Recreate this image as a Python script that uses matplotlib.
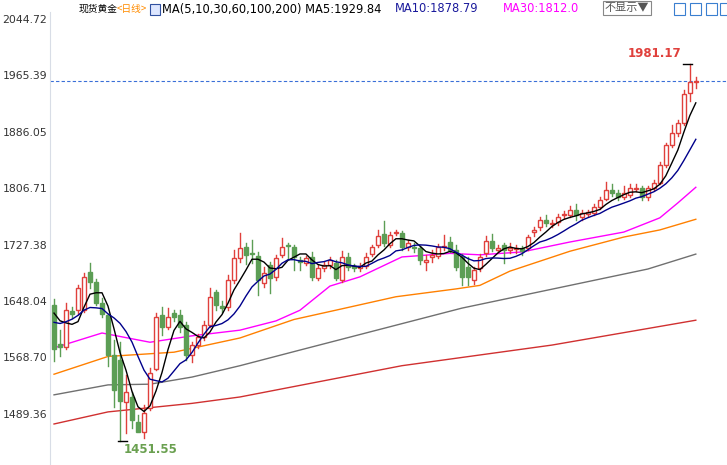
import numpy as np
import matplotlib
matplotlib.use("agg")
import matplotlib.pyplot as plt
from matplotlib.patches import Rectangle

plt.rcParams["font.family"] = ["Noto Sans CJK SC", "DejaVu Sans"]

# daily OHLC, oldest first
opens = [1642, 1587, 1583, 1634, 1635, 1635, 1689, 1675, 1645, 1628,
         1572, 1565, 1506, 1513, 1478, 1464, 1497, 1553, 1628, 1611,
         1631, 1628, 1614, 1572, 1586, 1597, 1614, 1660, 1641, 1639,
         1677, 1708, 1724, 1716, 1712, 1674, 1698, 1682, 1713, 1727,
         1724, 1706, 1702, 1710, 1680, 1694, 1699, 1701, 1677, 1710,
         1697, 1694, 1697, 1714, 1727, 1742, 1727, 1743, 1743, 1724,
         1724, 1722, 1703, 1710, 1712, 1724, 1731, 1720, 1710, 1696,
         1677, 1694, 1715, 1733, 1720, 1727, 1720, 1721, 1722, 1722,
         1745, 1752, 1762, 1757, 1759, 1769, 1769, 1776, 1766, 1771,
         1772, 1780, 1792, 1804, 1800, 1794, 1797, 1806, 1807, 1794,
         1807, 1814, 1839, 1867, 1884, 1898, 1941, 1956]
closes = [1580, 1584, 1635, 1630, 1666, 1682, 1675, 1645, 1630, 1572,
          1523, 1508, 1520, 1481, 1464, 1490, 1547, 1625, 1611, 1625,
          1625, 1611, 1572, 1586, 1597, 1614, 1653, 1642, 1638, 1677,
          1708, 1722, 1713, 1714, 1677, 1688, 1680, 1708, 1724, 1726,
          1710, 1703, 1708, 1682, 1694, 1699, 1706, 1680, 1710, 1696,
          1694, 1697, 1710, 1724, 1739, 1729, 1741, 1745, 1724, 1730,
          1723, 1705, 1706, 1713, 1724, 1726, 1720, 1696, 1682, 1682,
          1691, 1710, 1733, 1722, 1722, 1720, 1723, 1723, 1719, 1738,
          1748, 1762, 1758, 1758, 1766, 1770, 1776, 1769, 1772, 1773,
          1780, 1790, 1804, 1800, 1794, 1800, 1807, 1807, 1794, 1807,
          1814, 1839, 1867, 1884, 1898, 1939, 1956, 1957]
highs = [1651, 1607, 1645, 1640, 1670, 1688, 1701, 1679, 1652, 1630,
         1593, 1590, 1544, 1520, 1488, 1502, 1554, 1631, 1640, 1638,
         1636, 1635, 1618, 1590, 1602, 1620, 1666, 1664, 1648, 1685,
         1720, 1743, 1730, 1734, 1717, 1696, 1703, 1713, 1736, 1730,
         1727, 1710, 1712, 1717, 1699, 1703, 1710, 1705, 1718, 1715,
         1700, 1701, 1715, 1727, 1748, 1760, 1745, 1748, 1746, 1734,
         1730, 1726, 1713, 1720, 1728, 1741, 1738, 1727, 1714, 1710,
         1696, 1714, 1740, 1742, 1727, 1730, 1730, 1727, 1726, 1741,
         1752, 1766, 1769, 1762, 1770, 1774, 1782, 1784, 1776, 1776,
         1785, 1794, 1816, 1812, 1804, 1810, 1812, 1812, 1810, 1810,
         1818, 1843, 1870, 1895, 1902, 1945, 1981.17, 1963]
lows = [1563, 1570, 1580, 1624, 1630, 1633, 1667, 1642, 1626, 1556,
        1499, 1451.55, 1462, 1470, 1464, 1455, 1495, 1551, 1600, 1608,
        1620, 1605, 1565, 1562, 1582, 1593, 1611, 1635, 1633, 1635,
        1673, 1703, 1700, 1701, 1657, 1668, 1659, 1678, 1710, 1708,
        1692, 1692, 1698, 1678, 1677, 1690, 1694, 1677, 1675, 1692,
        1690, 1690, 1694, 1711, 1724, 1726, 1724, 1741, 1720, 1720,
        1717, 1700, 1692, 1703, 1709, 1720, 1717, 1692, 1670, 1670,
        1672, 1690, 1712, 1718, 1717, 1701, 1715, 1715, 1713, 1720,
        1740, 1748, 1754, 1752, 1755, 1765, 1766, 1762, 1762, 1768,
        1769, 1778, 1790, 1796, 1790, 1791, 1795, 1803, 1790, 1790,
        1804, 1812, 1836, 1865, 1880, 1895, 1930, 1948]
# closes before the first visible day (needed for MA5 / MA10)
pre_closes = [1600, 1610, 1595, 1612, 1608, 1638, 1650, 1640, 1647]

# longer averages at a few bars
ma30_idx = [0, 8, 16, 23, 31, 37, 41, 46, 51, 58, 66, 71, 78, 86, 95, 101, 104, 107]
ma30_val = [1582, 1603, 1590, 1599, 1607, 1620, 1635, 1669, 1682, 1710, 1715,
            1713, 1717, 1731, 1745, 1765, 1786, 1808]
ma60_idx = [0, 9, 20, 31, 40, 48, 57, 67, 71, 76, 86, 95, 101, 107]
ma60_val = [1545, 1570, 1576, 1596, 1622, 1637, 1654, 1665, 1670, 1690, 1718,
            1738, 1748, 1763]
ma100_idx = [0, 9, 16, 23, 31, 41, 68, 99, 107]
ma100_val = [1516, 1530, 1531, 1541, 1557, 1579, 1638, 1693, 1714]
ma200_idx = [0, 9, 23, 31, 58, 83, 107]
ma200_val = [1475, 1492, 1504, 1513, 1557, 1586, 1621]

yticks = [2044.72, 1965.39, 1886.05, 1806.71, 1727.38, 1648.04, 1568.70, 1489.36]

RED = "#e0403c"
GREEN = "#5c9e55"

fig = plt.figure(figsize=(7.27, 4.65), dpi=100, facecolor="white")
ax = fig.add_axes([50 / 727, 0, 677 / 727, 1 - 12 / 465])

n = len(closes)
x = np.arange(n)
for i in x:
    o, c, h, l = opens[i], closes[i], highs[i], lows[i]
    up = c >= o
    col = RED if up else GREEN
    lo, hi = min(o, c), max(o, c)
    ax.plot([i, i], [l, lo], color=col, lw=1, zorder=2)
    ax.plot([i, i], [hi, h], color=col, lw=1, zorder=2)
    body = max(hi - lo, 0.8)
    ax.add_patch(Rectangle((i - 0.38, lo), 0.76, body, facecolor="white" if up else col,
                           edgecolor=col, lw=1, zorder=3))

allc = np.array(pre_closes + closes, dtype=float)
ma5 = np.convolve(allc, np.ones(5) / 5, mode="valid")[-n:]
ma10 = np.convolve(allc, np.ones(10) / 10, mode="valid")[-n:]
ax.plot(x, ma5, color="black", lw=1, zorder=4)
ax.plot(x, ma10, color="#00008b", lw=1, zorder=4)
ax.plot(ma30_idx, ma30_val, color="#ff00ff", lw=1, zorder=1)
ax.plot(ma60_idx, ma60_val, color="#ff8000", lw=1, zorder=1)
ax.plot(ma100_idx, ma100_val, color="#707070", lw=1, zorder=1)
ax.plot(ma200_idx, ma200_val, color="#d03030", lw=1, zorder=1)

# last price line
ax.axhline(closes[-1], color="#3a6fd8", lw=0.8, ls=(0, (3, 2)), zorder=1)

# high / low markers
ih = int(np.argmax(highs))
il = int(np.argmin(lows))
ax.plot([ih - 1.2, ih + 0.3], [highs[ih]] * 2, color="black", lw=1)
ax.text(ih - 1.5, highs[ih] + 6, f"{highs[ih]:.2f}", color=RED, fontsize=8.5,
        fontweight="bold", ha="right", va="bottom", family=["DejaVu Sans"])
ax.plot([il - 0.3, il + 1.2], [lows[il]] * 2, color="black", lw=1)
ax.text(il + 0.6, lows[il] - 4, f"{lows[il]:.2f}", color="#6aa050", fontsize=8.5,
        fontweight="bold", ha="left", va="top", family=["DejaVu Sans"])

ax.set_xlim(-0.67, 112.2)
ax.set_ylim(1417.3, 2054.6)
ax.set_yticks(yticks)
ax.set_yticklabels([f"{v:.2f}" for v in yticks], fontsize=7.8, color="#333333",
                   family=["DejaVu Sans"])
ax.tick_params(axis="y", length=0, pad=2)
ax.set_xticks([])
for s in ["top", "right", "bottom"]:
    ax.spines[s].set_visible(False)
ax.spines["left"].set_color("#d8dde6")

# header
yh = 1 - 9 / 465
fig.text(79 / 727, yh, "现货黄金", fontsize=7, va="center")
fig.text(117 / 727, yh, "<日线>", fontsize=7, va="center", color="#ff8c00")
fig.patches.append(Rectangle((150 / 727, 1 - 15 / 465), 10 / 727, 11 / 465,
                             transform=fig.transFigure, fc="#dde6ff", ec="#3050a0", lw=0.8))
fig.text(162 / 727, yh, "MA(5,10,30,60,100,200) MA5:1929.84", fontsize=8.3,
         va="center", family=["DejaVu Sans"])
fig.text(395 / 727, yh, "MA10:1878.79", fontsize=8.3, va="center",
         color="#1a1a9c", family=["DejaVu Sans"])
fig.text(503 / 727, yh, "MA30:1812.0", fontsize=8.3, va="center",
         color="#ff00ff", family=["DejaVu Sans"])
fig.text(605 / 727, 1 - 8 / 465, "不显示▼", fontsize=8, va="center", color="#555555",
         bbox=dict(boxstyle="square,pad=0.15", fc="white", ec="#888888", lw=0.8))
for bx in [674, 690, 706, 720]:
    fig.patches.append(Rectangle((bx / 727, 1 - 15 / 465), 11 / 727, 12 / 465,
                                 transform=fig.transFigure, fc="white", ec="#3a7fd0", lw=0.8))

fig.savefig("out.png", dpi=100)
